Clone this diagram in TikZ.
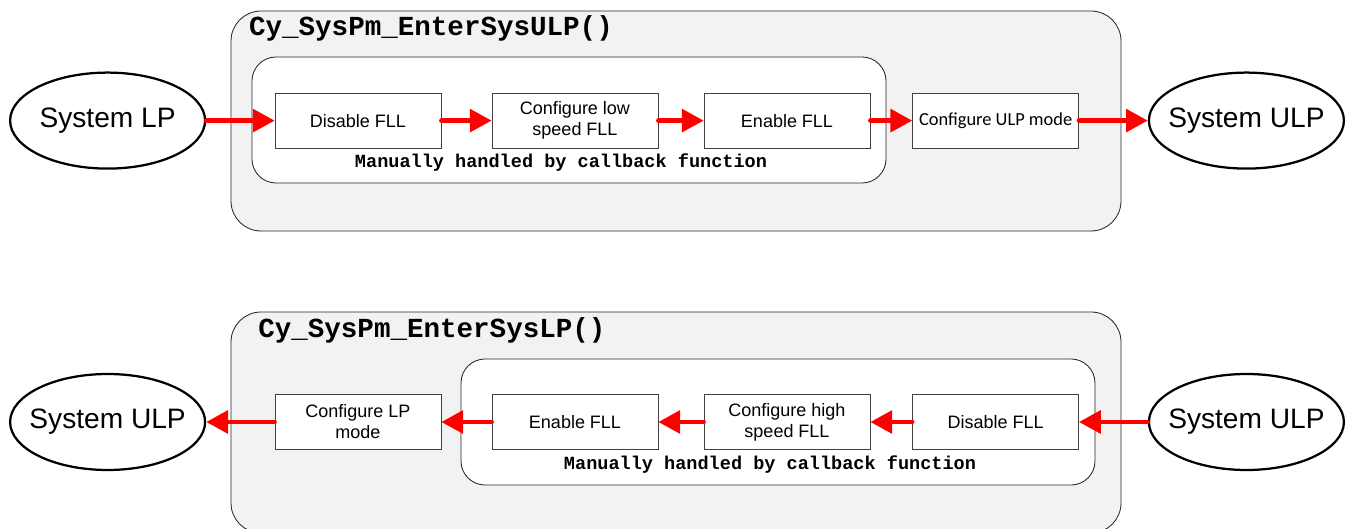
\documentclass[tikz,border=0pt]{standalone}
\usepackage{fontspec}
\setmainfont{Liberation Sans}
\newfontfamily\codefont{Liberation Mono}
\newfontfamily\calfont{Carlito}
\usetikzlibrary{arrows.meta,shapes.geometric}
\definecolor{framegray}{RGB}{242,242,242}
\definecolor{flowred}{RGB}{255,0,0}
\definecolor{edgegray}{RGB}{64,64,64}
\tikzset{
    func frame/.style={draw=black!85, fill=framegray, rounded corners=0.75cm, line width=0.6pt},
    cb frame/.style={draw=black!85, fill=white, rounded corners=0.6cm, line width=0.6pt},
    step box/.style={rectangle, draw=edgegray, fill=white, line width=0.5pt, minimum width=4.15cm, minimum height=1.375cm, align=center, inner sep=2pt, font=\fontsize{12.8}{15}\selectfont},
    state node/.style={ellipse, draw=black, line width=1.6pt, minimum width=4.875cm, minimum height=2.4cm, inner xsep=-0.3cm, inner ysep=0pt, font=\fontsize{20}{24}\selectfont},
    flow arrow/.style={-{Triangle[length=15.5pt,width=16pt]}, flowred, line width=3.2pt, line cap=round},
    func title/.style={anchor=west, inner sep=0pt, font=\codefont\bfseries\fontsize{19.6}{22}\selectfont},
    cb note/.style={inner sep=0pt, font=\codefont\bfseries\fontsize{13.2}{15}\selectfont}
}

\begin{document}
\begin{tikzpicture}
    \useasboundingbox (0,0) rectangle (33.725,13.225);

    % Enter ULP: frames
    \draw[func frame] (5.775,7.45) rectangle (28.025,12.95);
    \draw[cb frame] (6.3,8.65) rectangle (22.15,11.8);
    \node[func title] (ulptitle) at (6.22,12.52) {Cy\_SysPm\_EnterSysULP()};
    \node[cb note] (ulpnote) at (14.025,9.15) {Manually handled by callback function};

    % Enter ULP: states and steps
    \node[state node] (lpA) at (2.69,10.21) {System LP};
    \node[step box] (u1) at (8.95,10.21) {Disable FLL};
    \node[step box] (u2) at (14.375,10.21) {Configure low\\speed FLL};
    \node[step box] (u3) at (19.675,10.21) {Enable FLL};
    \node[step box, font=\calfont\fontsize{13.1}{15}\selectfont] (u4) at (24.89,10.21) {Configure ULP mode};
    \node[state node] (ulpA) at (31.16,10.21) {System ULP};

    \draw[flow arrow] (lpA) -- (u1);
    \draw[flow arrow] (u1) -- (u2);
    \draw[flow arrow] (u2) -- (u3);
    \draw[flow arrow] (u3) -- (u4);
    \draw[flow arrow] (u4) -- (ulpA);

    % Enter LP: frames
    \draw[func frame] (5.775,-0.1) rectangle (28.025,5.425);
    \draw[cb frame] (11.525,1.1) rectangle (27.375,4.25);
    \node[func title] (lptitle) at (6.45,4.975) {Cy\_SysPm\_EnterSysLP()};
    \node[cb note] (lpnote) at (19.25,1.6) {Manually handled by callback function};

    % Enter LP: states and steps
    \node[state node] (ulpB) at (2.69,2.675) {System ULP};
    \node[step box] (l1) at (8.95,2.675) {Configure LP\\mode};
    \node[step box] (l2) at (14.375,2.675) {Enable FLL};
    \node[step box] (l3) at (19.675,2.675) {Configure high\\speed FLL};
    \node[step box] (l4) at (24.89,2.675) {Disable FLL};
    \node[state node] (ulpC) at (31.16,2.675) {System ULP};

    \draw[flow arrow] (ulpC) -- (l4);
    \draw[flow arrow] (l4) -- (l3);
    \draw[flow arrow] (l3) -- (l2);
    \draw[flow arrow] (l2) -- (l1);
    \draw[flow arrow] (l1) -- (ulpB);
\end{tikzpicture}
\end{document}
